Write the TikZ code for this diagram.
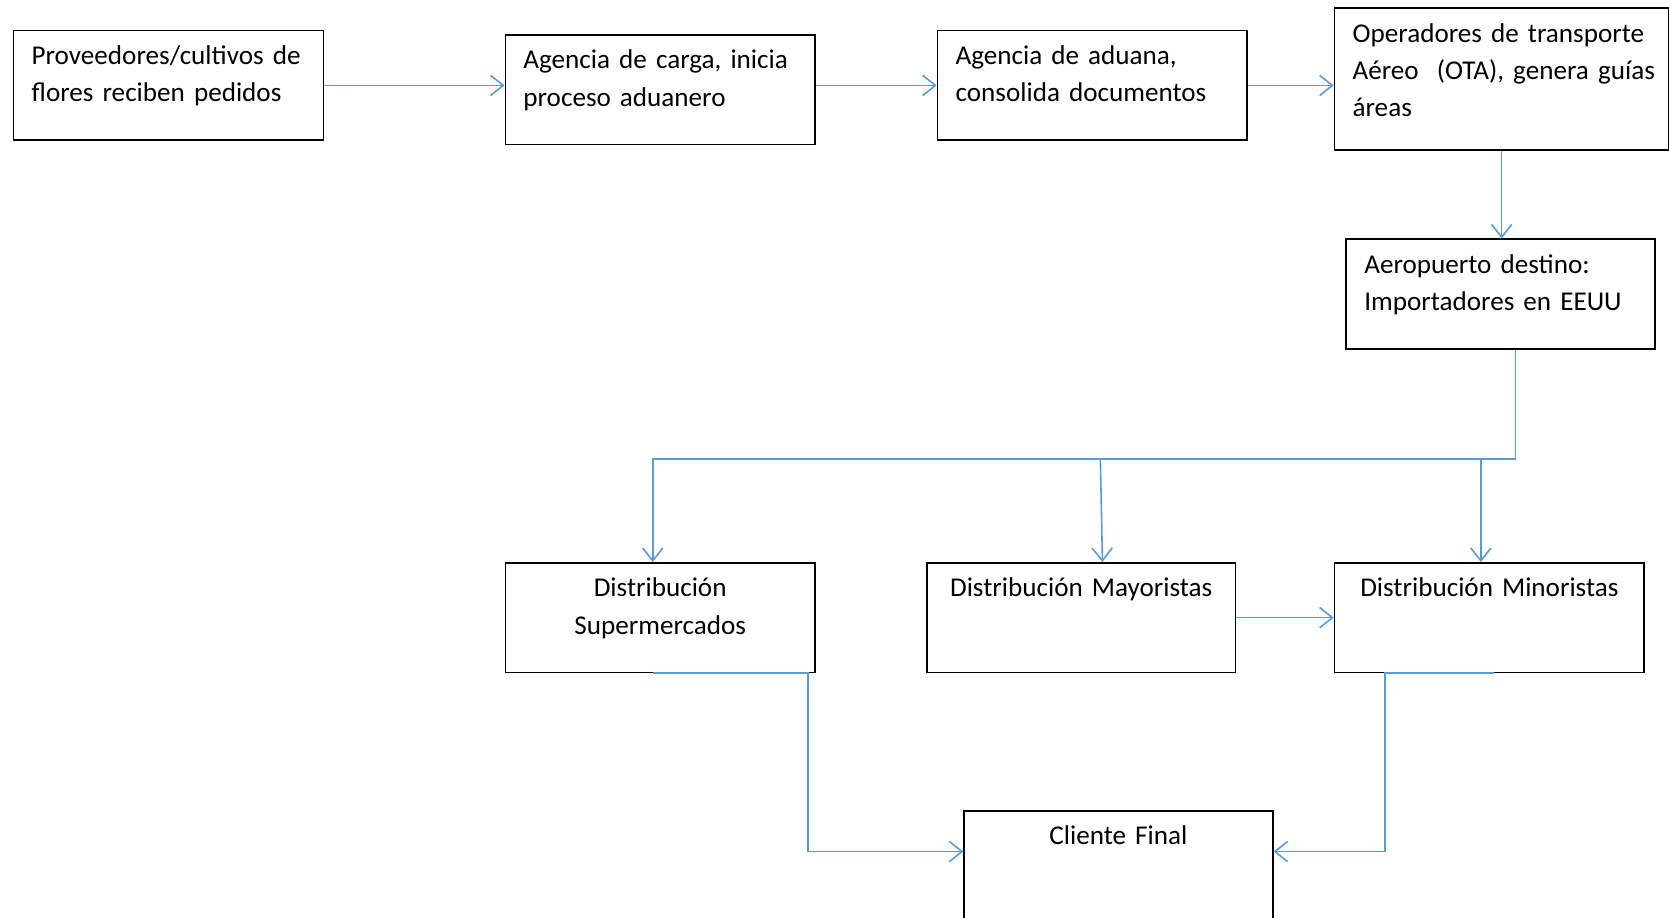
\documentclass[tikz,border=0pt]{standalone}
\usepackage{fontspec}
\setmainfont{Carlito}
\usetikzlibrary{arrows.meta,calc}
\definecolor{conncol}{RGB}{91,155,213}
\def\ind{\hspace*{17pt}}
\tikzset{
  box/.style={draw=black, line width=1.5pt, fill=white, inner xsep=0pt, inner ysep=0pt,
    anchor=north west, text height=32pt, font=\fontsize{25.5}{35}\selectfont},
  lbox/.style={box, align=left},
  cbox/.style={box, align=center},
  conn/.style={draw=conncol, line width=1.5pt, -{Straight Barb[length=12pt,width=19pt,line width=1.5pt]}}
}
\begin{document}
\begin{tikzpicture}[x=1pt,y=-1pt]
\useasboundingbox (0,0) rectangle (1568,862);
\fill[white] (0,0) rectangle (1568,862);
% boxes
\node[lbox, text width=291pt, text depth=71pt] (b1) at (12,28) {\ind Proveedores/cultivos de\\ \ind flores reciben pedidos};
\node[lbox, text width=291pt, text depth=71pt] (b2) at (474,32) {\ind Agencia de carga, inicia\\ \ind proceso aduanero};
\node[lbox, text width=291pt, text depth=71pt] (b3) at (880,28) {\ind Agencia de aduana,\\ \ind consolida documentos};
\node[lbox, text width=314pt, text depth=101pt] (b4) at (1253,7) {\ind Operadores de transporte\\ \ind Aéreo~ (OTA), genera guías\\ \ind áreas};
\node[lbox, text width=290pt, text depth=71pt] (b5) at (1264,224) {\ind Aeropuerto destino:\\ \ind Importadores en EEUU};
\node[cbox, text width=291pt, text depth=71pt] (b6) at (474,528) {Distribución\\Supermercados};
\node[cbox, text width=290pt, text depth=71pt] (b7) at (870,528) {Distribución Mayoristas};
\node[cbox, text width=291pt, text depth=71pt] (b8) at (1253,528) {Distribución Minoristas};
\node[cbox, text width=290pt, text depth=80pt] (b9) at (905,761) {Cliente Final};
\coordinate (bus) at (0,431);
% connectors
\draw[conn] (b1.east) -- (b1.east -| b2.west);
\draw[conn] (b2.east |- b3.west) -- (b3.west);
\draw[conn] (b3.east) -- (b3.east -| b4.west);
\draw[conn] (b4.south) -- (b4.south |- b5.north);
\draw[conn] ([xshift=14pt]b5.south) |- ([xshift=-7pt]b6.north |- bus) -- ([xshift=-7pt]b6.north);
\draw[conn] ([xshift=18pt]b7.north |- bus) -- ([xshift=20pt]b7.north);
\draw[conn] ([xshift=-8pt]b8.north |- bus) -- ([xshift=-8pt]b8.north);
\draw[conn] (b7.east) -- (b7.east -| b8.west);
\draw[conn] ([xshift=-7pt]b6.south) -- ([xshift=139pt]b6.south) |- ([yshift=-39pt]b9.north west);
\draw[conn] ([xshift=4pt]b8.south) -- ([xshift=-98pt]b8.south) |- ([yshift=-39pt]b9.north east);
\end{tikzpicture}
\end{document}
